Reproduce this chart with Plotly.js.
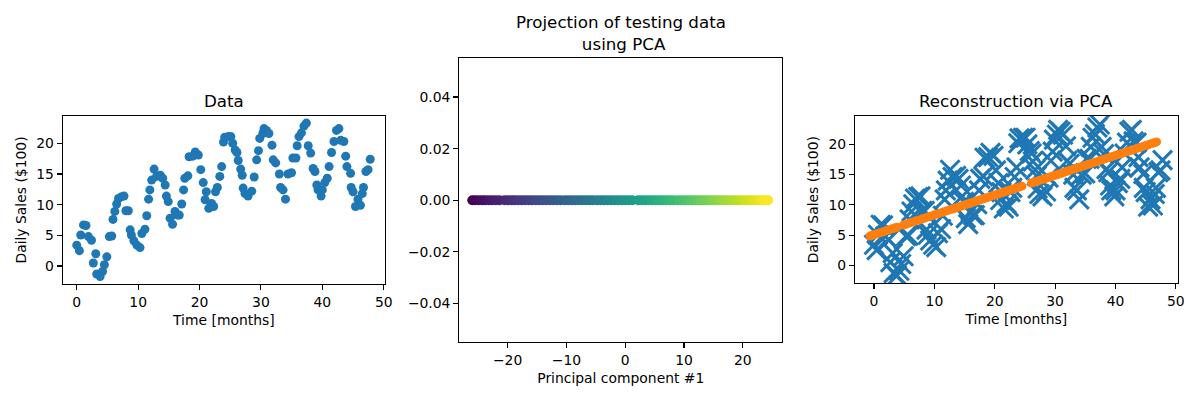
<!DOCTYPE html>
<html>
<head>
<meta charset="utf-8">
<script src="https://cdn.plot.ly/plotly-3.0.1.min.js"></script>
<style>html,body{margin:0;padding:0;background:#fff;}#chart{width:1200px;height:400px;}</style>
</head>
<body>
<div id="chart"></div>
<script>
// Observed data (time in months, daily sales in $100)
const months = [0,0.43,0.65,1.1,1.5,1.9,2.4,2.7,3.1,3.25,3.8,4.2,4.5,4.9,5.3,5.7,5.9,6.2,6.5,6.8,7.3,7.7,8.0,8.4,8.7,8.9,9.3,9.8,10.3,10.6,11.1,11.4,11.7,11.9,12.2,12.6,13.0,13.6,14.0,14.4,14.6,14.9,15.2,15.6,16.0,16.4,16.7,17.1,17.4,17.6,18.1,18.3,18.9,19.3,19.8,20.2,20.6,20.9,21.1,21.5,21.96,22.3,22.6,22.9,23.3,23.6,23.9,24.1,24.7,25.1,25.4,25.8,26.1,26.3,26.7,26.95,27.1,27.4,27.9,28.5,28.9,29.3,29.6,29.8,30.3,30.5,30.9,31.3,31.8,32.0,32.4,33.0,33.2,33.6,34.0,34.4,34.98,35.2,35.7,35.9,36.2,36.6,37.0,37.4,37.7,38.1,38.5,38.8,39.1,39.3,39.8,40.0,40.4,40.8,41.1,41.5,41.9,42.3,42.7,43.0,43.5,43.8,44.0,44.6,44.7,45.0,45.4,45.8,46.2,46.5,46.7,47.1,47.45,47.8];
const sales = [3.4,2.5,5.05,6.7,6.6,4.8,4.2,0.5,2.0,-1.3,-1.7,-0.9,0.2,1.5,4.8,4.9,7.6,8.9,10.1,11.0,11.3,11.4,9.0,9.0,5.9,5.05,4.1,3.4,3.0,5.3,6.0,8.2,10.9,12.4,14.0,15.8,14.6,14.8,14.3,13.2,11.4,10.5,7.8,6.8,8.9,8.3,8.3,10.1,12.4,14.3,14.7,17.8,17.9,18.6,18.1,15.7,13.6,10.8,12.1,9.4,10.2,9.7,12.1,12.8,14.6,16.2,20.2,21.0,21.1,21.1,20.0,18.9,18.5,17.2,15.8,14.8,12.7,11.8,11.4,12.2,14.5,17.3,18.8,20.8,21.6,22.4,22.1,21.6,19.7,17.3,16.8,15.0,12.8,12.4,10.9,15.0,15.2,17.6,17.6,19.6,21.1,21.7,22.8,23.3,19.6,18.4,15.9,15.4,13.2,12.4,11.4,12.4,13.6,14.3,16.2,18.5,20.3,22.1,22.4,20.5,20.3,17.9,16.2,15.1,12.8,12.1,9.7,10.9,9.9,11.8,12.8,15.4,15.7,17.4];

// Projection of the testing data onto the first principal component
const pc1 = [-26.0,-25.5,-24.9,-24.3,-23.8,-23.2,-22.6,-22.0,-21.4,-20.5,-19.9,-19.3,-18.8,-18.2,-17.6,-17.0,-16.4,-15.8,-15.2,-14.6,-14.0,-13.4,-12.8,-12.2,-11.6,-11.0,-10.3,-9.7,-9.1,-8.5,-7.9,-7.3,-6.7,-6.1,-5.5,-4.8,-4.2,-3.6,-3.0,-2.4,-1.8,-1.2,-0.6,0.0,0.6,1.2,2.2,2.8,3.4,4.0,4.6,5.2,5.8,6.4,7.0,7.6,8.2,8.9,9.5,10.1,10.7,11.3,11.9,12.5,13.1,13.7,14.3,14.9,15.5,16.1,16.7,17.3,17.9,18.5,19.1,19.7,20.3,20.9,21.5,22.1,22.7,23.3,23.8,24.3];

// Reconstruction from the first principal component
const reconMonths = [-0.66,-0.3,0,0.5,1,1.5,2,2.5,3,3.4,3.8,4.9,5.4,6,6.5,7,7.5,8,8.5,9,9.5,10,10.5,11,11.5,12,12.5,13,13.5,14,14.5,15,15.5,16,16.5,17,17.5,18,18.5,19,19.5,20,20.5,21,21.5,22,22.5,23,23.5,24,24.5,26.1,26.5,27,27.5,28,28.5,29,29.5,30,30.5,31,31.5,32,32.5,33,33.5,34,34.5,35,35.5,36,36.5,37,37.5,38,38.5,39,39.5,40,40.5,41,41.5,42,42.5,43,43.5,44,44.5,45,45.5,46,46.4,46.8];
const reconSales = [4.84,4.96,5.06,5.22,5.38,5.55,5.71,5.88,6.04,6.17,6.30,6.66,6.82,7.02,7.18,7.35,7.51,7.68,7.84,8.01,8.17,8.34,8.50,8.66,8.83,8.99,9.16,9.32,9.48,9.65,9.81,9.98,10.14,10.30,10.47,10.63,10.80,10.96,11.12,11.29,11.45,11.62,11.78,11.94,12.11,12.27,12.44,12.60,12.76,12.93,13.09,13.62,13.75,13.91,14.08,14.24,14.40,14.57,14.73,14.90,15.06,15.22,15.39,15.55,15.72,15.88,16.04,16.21,16.37,16.54,16.70,16.86,17.03,17.19,17.36,17.52,17.68,17.85,18.01,18.18,18.34,18.50,18.67,18.83,19.00,19.16,19.32,19.49,19.65,19.82,19.98,20.14,20.27,20.41];

const BLUE = '#1f77b4', ORANGE = '#ff7f0e';
const FONT = 'DejaVu Sans, Liberation Sans, sans-serif';

const traces = [
  {x: months, y: sales, type: 'scatter', mode: 'markers', xaxis: 'x', yaxis: 'y',
   marker: {color: BLUE, size: 9}, hoverinfo: 'skip'},
  {x: pc1, y: pc1.map(() => 0), type: 'scatter', mode: 'markers', xaxis: 'x2', yaxis: 'y2',
   marker: {color: pc1, colorscale: 'Viridis', size: 10, showscale: false}, hoverinfo: 'skip'},
  {x: months, y: sales, type: 'scatter', mode: 'markers', xaxis: 'x3', yaxis: 'y3',
   marker: {symbol: 'x-thin', size: 19, color: BLUE, line: {color: BLUE, width: 3}}, hoverinfo: 'skip'},
  {x: reconMonths, y: reconSales, type: 'scatter', mode: 'markers', xaxis: 'x3', yaxis: 'y3',
   marker: {color: ORANGE, size: 9}, hoverinfo: 'skip'}
];

function ax(extra) {
  return Object.assign({
    showgrid: false, zeroline: false, showline: true, mirror: true,
    linecolor: '#000', linewidth: 1.1, ticks: 'outside', ticklen: 5, tickwidth: 1.1,
    tickcolor: '#000', tickfont: {family: FONT, size: 13.9, color: '#000'},
    automargin: false
  }, extra);
}

const layout = {
  width: 1200, height: 400,
  margin: {l: 0, r: 0, t: 0, b: 0},
  paper_bgcolor: '#fff', plot_bgcolor: '#fff',
  showlegend: false,
  font: {family: FONT, color: '#000'},
  xaxis: ax({domain: [0.0523, 0.3208], range: [-2.28, 50.2], tickvals: [0,10,20,30,40,50], anchor: 'y',
    title: {text: 'Time [months]', font: {family: FONT, size: 13.9}, standoff: 6}}),
  yaxis: ax({domain: [0.29, 0.71], range: [-2.93, 24.45], tickvals: [0,5,10,15,20], anchor: 'x',
    title: {text: 'Daily Sales ($100)', font: {family: FONT, size: 13.9}, standoff: 6}}),
  xaxis2: ax({domain: [0.3828, 0.6519], range: [-28.2, 26.7], tickvals: [-20,-10,0,10,20], anchor: 'y2',
    title: {text: 'Principal component #1', font: {family: FONT, size: 13.9}, standoff: 6}}),
  yaxis2: ax({domain: [0.1443, 0.8543], range: [-0.055, 0.055], tickvals: [-0.04,-0.02,0,0.02,0.04], tickformat: '.2f', anchor: 'x2'}),
  xaxis3: ax({domain: [0.7125, 0.9814], range: [-3.15, 50.3], tickvals: [0,10,20,30,40,50], anchor: 'y3',
    title: {text: 'Time [months]', font: {family: FONT, size: 13.9}, standoff: 6}}),
  yaxis3: ax({domain: [0.2918, 0.71], range: [-2.98, 24.7], tickvals: [0,5,10,15,20], anchor: 'x3',
    title: {text: 'Daily Sales ($100)', font: {family: FONT, size: 13.9}, standoff: 6}}),
  annotations: [
    {text: 'Data', xref: 'paper', yref: 'paper', x: 0.18655, y: 0.747, xanchor: 'center', yanchor: 'middle',
     showarrow: false, font: {family: FONT, size: 16.7, color: '#000'}},
    {text: 'Projection of testing data<br> using PCA', xref: 'paper', yref: 'paper', x: 0.51735, y: 0.917, xanchor: 'center', yanchor: 'middle',
     showarrow: false, font: {family: FONT, size: 16.7, color: '#000'}},
    {text: 'Reconstruction via PCA', xref: 'paper', yref: 'paper', x: 0.84695, y: 0.747, xanchor: 'center', yanchor: 'middle',
     showarrow: false, font: {family: FONT, size: 16.7, color: '#000'}}
  ]
};

Plotly.newPlot('chart', traces, layout, {staticPlot: true, displayModeBar: false});
</script>
</body>
</html>
